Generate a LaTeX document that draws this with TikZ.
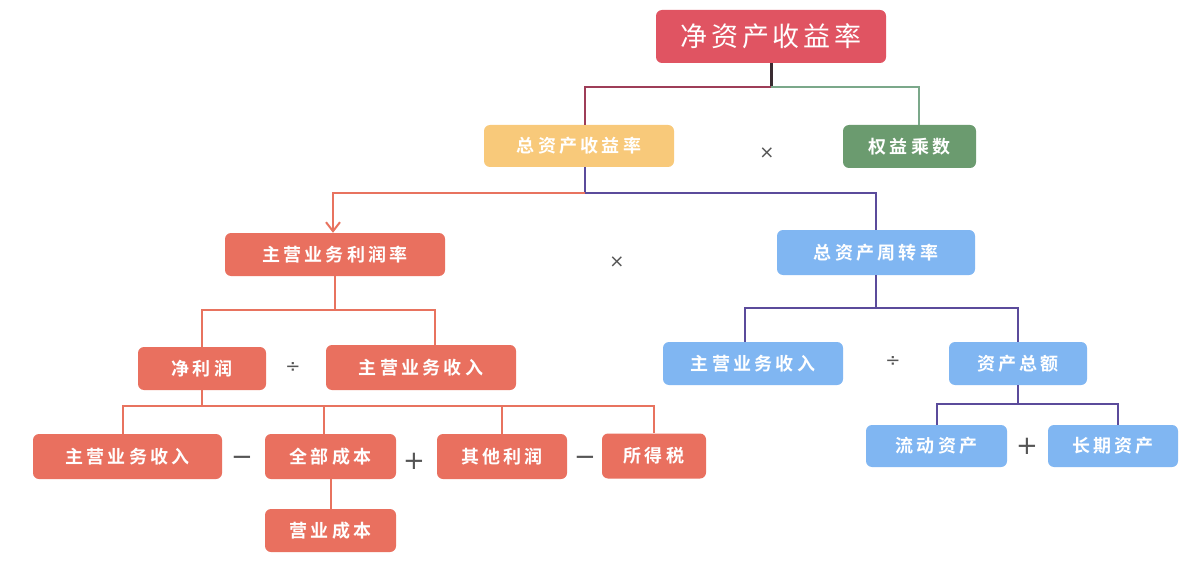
\documentclass[tikz,border=0pt]{standalone}
\usepackage{fontspec}
\newfontfamily\cjk{Noto Sans CJK SC}[BoldFont={Noto Sans CJK SC Bold}]
\newfontfamily\symf{DejaVu Sans}
\usetikzlibrary{arrows.meta}
\definecolor{cRoe}{HTML}{E05462}
\definecolor{cRoa}{HTML}{F8C97A}
\definecolor{cEm}{HTML}{6B9B6F}
\definecolor{cSal}{HTML}{E9705F}
\definecolor{cBlue}{HTML}{80B6F2}
\definecolor{lDark}{HTML}{3A2C32}
\definecolor{lMaroon}{HTML}{9E3D58}
\definecolor{lGreen}{HTML}{7BA88A}
\definecolor{lSal}{HTML}{E8735F}
\definecolor{lPurple}{HTML}{5B4B9B}
\definecolor{opc}{HTML}{555555}
\tikzset{
  box/.style={rounded corners=6pt, inner sep=0pt, text=white,
    font=\cjk\bfseries\fontsize{18}{18}\selectfont\addfontfeature{LetterSpace=18}},
  bigbox/.style={box, font=\cjk\fontsize{27}{27}\selectfont\addfontfeature{LetterSpace=14}},
  link/.style={line width=2pt},
  opsign/.style={text=opc, inner sep=0pt, font=\symf\fontsize{18}{18}\selectfont},
  bigop/.style={text=opc, inner sep=0pt, font=\symf\fontsize{26}{26}\selectfont},
}
\begin{document}
\begin{tikzpicture}[x=1pt, y=-1pt]
\useasboundingbox (0,0) rectangle (1188,564);
\fill[white] (0,0) rectangle (1188,564);

% level 0 and 1
\node[bigbox, fill=cRoe, minimum width=230pt, minimum height=53pt] (roe) at (771,36.5) {净资产收益率};
\node[box, fill=cRoa, minimum width=190pt, minimum height=42pt] (roa) at (579,146) {总资产收益率};
\node[box, fill=cEm, minimum width=133pt, minimum height=43pt] (em) at (909.5,146.5) {权益乘数};
\node[opsign] (x1) at (767,153) {×};

% level 2
\node[box, fill=cSal, minimum width=220pt, minimum height=43pt] (pm) at (335,254.5) {主营业务利润率};
\node[box, fill=cBlue, minimum width=198pt, minimum height=45pt] (tat) at (876,252.5) {总资产周转率};
\node[opsign] (x2) at (617,262) {×};

% level 3
\node[box, fill=cSal, minimum width=128pt, minimum height=43pt] (np) at (202,368.5) {净利润};
\node[box, fill=cSal, minimum width=190pt, minimum height=45pt] (rev1) at (421,367.5) {主营业务收入};
\node[opsign] (d1) at (293,368) {÷};
\node[box, fill=cBlue, minimum width=180pt, minimum height=43pt] (rev2) at (753,363.5) {主营业务收入};
\node[box, fill=cBlue, minimum width=138pt, minimum height=43pt] (ta) at (1018,363.5) {资产总额};
\node[opsign] (d2) at (893,362) {÷};

% level 4
\node[box, fill=cSal, minimum width=189pt, minimum height=45pt] (rev3) at (127.5,456.5) {主营业务收入};
\node[box, fill=cSal, minimum width=131pt, minimum height=45pt] (tc) at (330.5,456.5) {全部成本};
\node[box, fill=cSal, minimum width=130pt, minimum height=45pt] (op) at (502,456.5) {其他利润};
\node[box, fill=cSal, minimum width=104pt, minimum height=45pt] (tax) at (654,456) {所得税};
\node[bigop] (m1) at (242,461) {−};
\node[bigop] (p1) at (414,461) {+};
\node[bigop] (m2) at (585,461) {−};
\node[box, fill=cBlue, minimum width=141pt, minimum height=42pt] (ca) at (936.5,446) {流动资产};
\node[box, fill=cBlue, minimum width=130pt, minimum height=42pt] (la) at (1113,446) {长期资产};
\node[bigop] (p2) at (1027,446) {+};

% level 5
\node[box, fill=cSal, minimum width=131pt, minimum height=43pt] (cost) at (330.5,530.5) {营业成本};

% connectors (shifts are in page orientation: negative yshift goes down)
\coordinate (j0) at ([yshift=-24pt]roe.south);
\draw[line width=3pt, lDark] (roe.south) -- (j0);
\draw[link, lMaroon] (j0) -| ([xshift=6pt]roa.north);
\draw[link, lGreen] (j0) -| ([xshift=9pt]em.north);

\coordinate (j1) at ([xshift=6pt, yshift=-26pt]roa.south);
\draw[link, lPurple] ([xshift=6pt]roa.south) -- (j1);
\draw[link, lSal, -{Straight Barb[length=9pt, width=14pt]}] (j1) -| ([xshift=-2pt]pm.north);
\draw[link, lPurple] (j1) -| (tat.north);

\coordinate (j2) at ([yshift=-34pt]pm.south);
\draw[link, lSal] (pm.south) -- (j2) -| (np.north);
\draw[link, lSal] (j2) -| ([xshift=14pt]rev1.north);

\coordinate (j3) at ([yshift=-16pt]np.south);
\draw[link, lSal] (np.south) -- (j3) -| ([xshift=-5pt]rev3.north);
\draw[link, lSal] (j3) -| ([xshift=-7pt]tc.north);
\draw[link, lSal] (j3) -| (op.north);
\draw[link, lSal] (j3) -| (tax.north);
\draw[link, lSal] (tc.south) -- (cost.north);

\coordinate (j4) at ([yshift=-33pt]tat.south);
\draw[link, lPurple] (tat.south) -- (j4) -| ([xshift=-8pt]rev2.north);
\draw[link, lPurple] (j4) -| (ta.north);

\coordinate (j5) at ([yshift=-19pt]ta.south);
\draw[link, lPurple] (ta.south) -- (j5) -| (ca.north);
\draw[link, lPurple] (j5) -| ([xshift=5pt]la.north);
\end{tikzpicture}
\end{document}
